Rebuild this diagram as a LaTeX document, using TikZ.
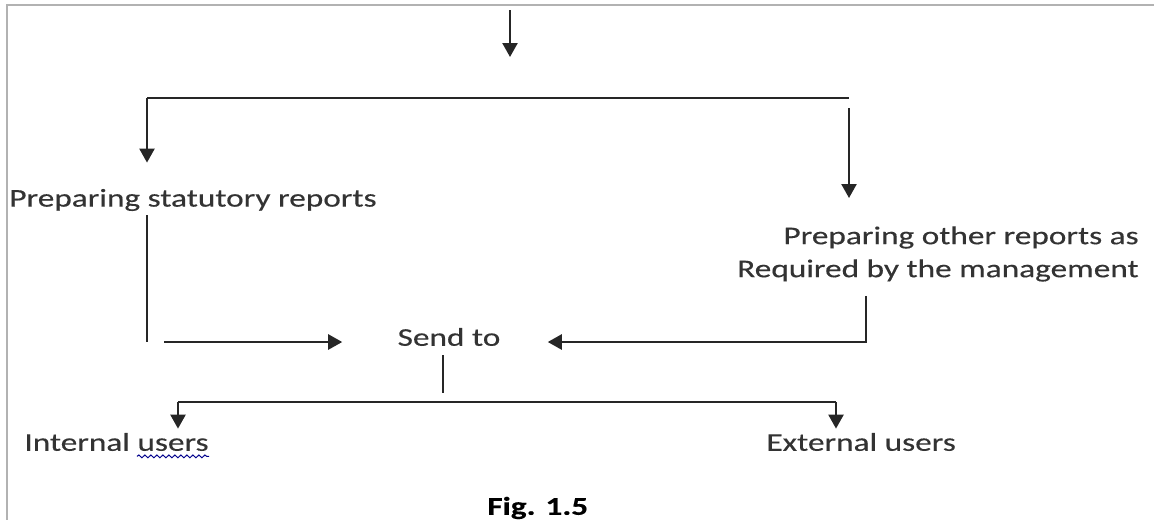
\documentclass[tikz,border=0pt]{standalone}
\usepackage{fontspec}
\setmainfont{Carlito}[FakeStretch=1.3,FakeBold=0.3]
\usetikzlibrary{arrows.meta,positioning,calc,decorations.pathmorphing}

\begin{document}
\begin{tikzpicture}[x=0.5pt,y=-0.5pt,
    txt/.style={inner sep=0pt, text=black!80, font=\fontsize{12.8}{16.5}\selectfont},
    wire/.style={line width=1.2pt, black!85},
    arr/.style={wire, -{Triangle[length=7pt,width=7.5pt]}}]
    \useasboundingbox (0,0) rectangle (1154,520);
    % frame
    \draw[black!30, line width=0.8pt] (1154,5) -- (7,5) -- (7,520);

    % texts
    \node[txt, anchor=west] (statutory) at (9,200) {Preparing statutory reports};
    \node[txt, anchor=east, align=right] (other) at (1139,254) {Preparing other reports as\\Required by the management};
    \node[txt] (send) at (449,337) {Send to};
    \node[txt, anchor=west] (internal) at (24,442) {Internal users};
    \node[txt, anchor=west] (external) at (766,442) {External users};
    \node[txt, anchor=west, text=black, font=\bfseries\fontsize{12.8}{16.5}\selectfont] (fig) at (487,508) {Fig. 1.5};

    % junctions
    \coordinate (top) at (510,10);
    \coordinate (split) at (510,57);
    \coordinate (forkL) at (147,98);
    \coordinate (forkR) at (849,98);
    \coordinate (jl) at (147,342);
    \coordinate (jr) at (866,342);
    \coordinate (jb) at (443,402);
    \coordinate (ul) at (178,402);
    \coordinate (ur) at (836,402);

    % top
    \draw[arr] (top) -- (split);
    \draw[wire] (forkL) -- (forkR);
    \draw[arr, shorten >=13pt] (forkL) -- (forkL |- statutory.north);
    \draw[arr, shorten <=5pt, shorten >=14pt] (forkR) -- (forkR |- other.north);

    % into send to
    \draw[wire, shorten <=2pt] (forkL |- statutory.south) -- (jl);
    \draw[arr, shorten <=8.5pt, shorten >=27.5pt] (jl) -- (jl -| send.west);
    \draw[arr, shorten <=7pt, shorten >=23.5pt] (jr |- other.south) -- (jr) -- (jr -| send.east);

    % out of send to
    \draw[wire, shorten <=4.5pt, shorten >=4.5pt] (jb |- send.south) -- (jb);
    \draw[wire] (ul) -- (ur);
    \draw[arr, shorten >=2pt] (ul) -- (ul |- internal.north);
    \draw[arr, shorten >=2pt] (ur) -- (ur |- external.north);

    % spell check mark
    \draw[blue!55!black, line width=0.5pt, decorate,
      decoration={snake, amplitude=0.7pt, segment length=3pt}]
      ($(internal.south east)+(-72,5)$) -- ($(internal.south east)+(0,5)$);
\end{tikzpicture}
\end{document}
